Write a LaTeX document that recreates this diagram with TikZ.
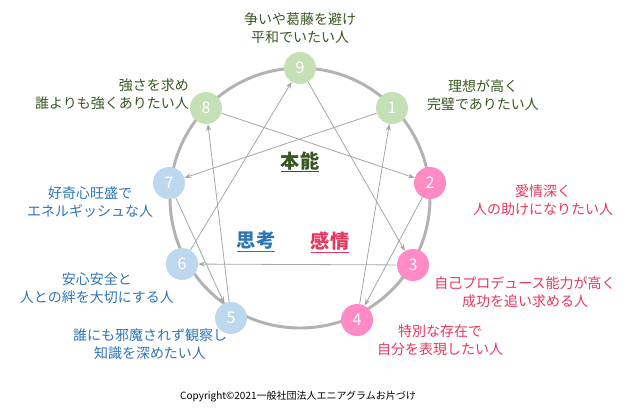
\documentclass[tikz,border=0pt]{standalone}
\usepackage{fontspec}
\setmainfont{Noto Sans CJK JP}
\usetikzlibrary{arrows.meta}
\definecolor{gfill}{HTML}{C5E0B4}
\definecolor{gtext}{HTML}{385723}
\definecolor{pfill}{HTML}{FF8AC4}
\definecolor{ptext}{HTML}{E8365D}
\definecolor{bfill}{HTML}{BDD7EE}
\definecolor{btext}{HTML}{2E75B6}
\tikzset{
  pt/.style = {circle, minimum size=24pt, inner sep=0pt, text=white, font=\large},
  lab/.style = {align=center, font=\fontsize{10.5}{13.5}\selectfont},
  link/.style = {-{Stealth[length=5pt]}, gray!70, line width=0.6pt}
}
\begin{document}
\begin{tikzpicture}[x=0.75pt, y=-0.75pt]
    \useasboundingbox (0,0) rectangle (636,408);
    \draw[gray!60, line width=2.2pt] (300,198) circle (130*0.75pt);
    \node[pt, fill=gfill] (n9) at (300,68) {9};
    \node[pt, fill=gfill] (n1) at (392,108) {1};
    \node[pt, fill=pfill] (n2) at (430,183) {2};
    \node[pt, fill=pfill] (n3) at (413,265) {3};
    \node[pt, fill=pfill] (n4) at (357,320) {4};
    \node[pt, fill=bfill] (n5) at (231,318) {5};
    \node[pt, fill=bfill] (n6) at (182,264) {6};
    \node[pt, fill=bfill] (n7) at (169,183) {7};
    \node[pt, fill=gfill] (n8) at (206,108) {8};
    \draw[link] (n9) -- (n3);
    \draw[link] (n3) -- (n6);
    \draw[link] (n6) -- (n9);
    \draw[link] (n1) -- (n7);
    \draw[link] (n7) -- (n5);
    \draw[link] (n5) -- (n8);
    \draw[link] (n8) -- (n2);
    \draw[link] (n2) -- (n4);
    \draw[link] (n4) -- (n1);
    \node[lab, text=gtext] (l9) at (300,28) {争いや葛藤を避け\\平和でいたい人};
    \node[lab, text=gtext] (l1) at (483,95) {理想が高く\\完璧でありたい人};
    \node[lab, text=gtext, align=right] (l8) at (112,94) {強さを求め\\誰よりも強くありたい人};
    \node[lab, text=ptext] (l2) at (543,200) {愛情深く\\人の助けになりたい人};
    \node[lab, text=btext] (l7) at (90,202) {好奇心旺盛で\\エネルギッシュな人};
    \node[lab, text=ptext] (l3) at (525,292) {自己プロデュース能力が高く\\成功を追い求める人};
    \node[lab, text=btext] (l6) at (97,288) {安心安全と\\人との絆を大切にする人};
    \node[lab, text=ptext] (l4) at (440,340) {特別な存在で\\自分を表現したい人};
    \node[lab, text=btext] (l5) at (150,344) {誰にも邪魔されず観察し\\知識を深めたい人};
    \node[text=gtext, font=\Large\bfseries] (k1) at (300,162) {\underline{本能}};
    \node[text=btext, font=\Large\bfseries] (k2) at (256,242) {\underline{思考}};
    \node[text=ptext, font=\Large\bfseries] (k3) at (330,242) {\underline{感情}};
    \node[font=\fontsize{7.5}{9}\selectfont] (cp) at (298,397) {Copyright©2021一般社団法人エニアグラムお片づけ};
\end{tikzpicture}
\end{document}
